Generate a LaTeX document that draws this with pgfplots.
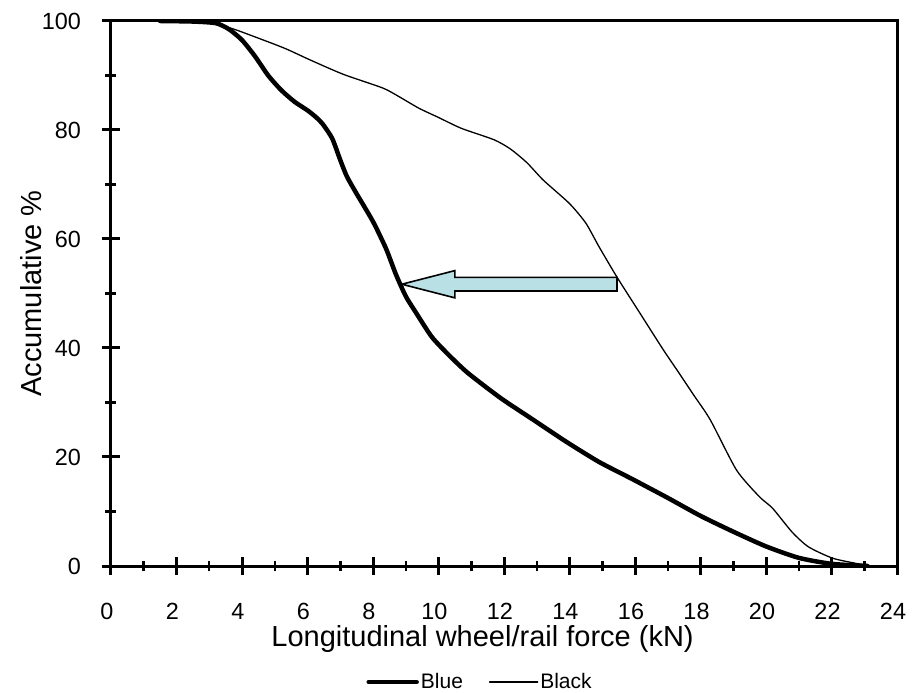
\documentclass[border=0pt]{standalone}
\usepackage{fontspec}
\setmainfont{Liberation Sans}
\usepackage{pgfplots}
\pgfplotsset{compat=1.18}
\definecolor{arrowfill}{RGB}{185,224,228}
\begin{document}
\begin{tikzpicture}
\useasboundingbox (-111pt,-127pt) rectangle (807pt,566pt);
\begin{axis}[
  at={(0pt,0pt)}, anchor=south west,
  width=786pt, height=545pt, scale only axis,
  xmin=0, xmax=24, ymin=0, ymax=100,
  xtick={0,2,...,24}, minor x tick num=1,
  ytick={0,20,...,100}, minor y tick num=1,
  xtick pos=left, ytick pos=left,
  tick align=center,
  major tick length=18pt, minor tick length=11pt,
  every major tick/.append style={line width=3pt, black},
  every minor tick/.append style={line width=2.5pt, black},
  axis line style={line width=3pt},
  /pgf/number format/assume math mode=true,
  tick label style={font=\fontsize{23.4pt}{28pt}\selectfont},
  x tick label style={anchor=north, inner sep=0pt, yshift=-28pt, xshift=-4pt},
  y tick label style={anchor=east, inner sep=0pt, xshift=-21pt},
  xlabel style={at={(axis description cs:0.4727,-0.1468)}, anchor=base, inner sep=0pt, font=\fontsize{29pt}{34pt}\selectfont},
  ylabel style={at={(axis description cs:-0.1018,0.5)}, rotate=0, anchor=center, inner sep=0pt, font=\fontsize{29pt}{34pt}\selectfont},
  xlabel={Longitudinal wheel/rail force (kN)},
  ylabel={Accumulative \%},
  legend columns=2,
  legend style={draw=none, fill=none, at={(axis description cs:0.4695,-0.2128)}, anchor=center,
    font=\fontsize{21pt}{25pt}\selectfont, inner sep=0pt,
    /tikz/every even column/.append style={column sep=24pt}},
  legend image code/.code={\draw[#1] (0pt,0pt) -- (48pt,0pt);},
]
\addplot[forget plot, draw=black, line width=1.6pt, fill=arrowfill] coordinates {
 (8.88,51.7) (10.5,54.2) (10.5,52.95) (15.45,52.95) (15.45,50.45) (10.5,50.45) (10.5,49.2) (8.88,51.7)};
\addplot[black, line width=4.5pt, line cap=round, smooth, tension=0.4] coordinates {
 (1.5,100) (2.5,99.9) (3.2,99.6) (3.6,98.5) (4.0,96.5) (4.4,93.5) (4.8,90) (5.2,87.3)
 (5.6,85.2) (6.0,83.6) (6.25,82.4) (6.45,81.2) (6.75,78.5) (7.0,74.5) (7.2,71.5) (7.5,68.3) (8.0,63.2)
 (8.4,58.2) (8.7,53.5) (9.0,49.5) (9.3,46.6) (9.8,42.0) (10.35,38.5) (10.9,35.4)
 (11.9,30.8) (12.9,26.8) (13.9,22.8) (14.9,19.1) (15.9,16.0) (17.0,12.5) (18.0,9.2)
 (19.0,6.3) (20.0,3.6) (21.0,1.5) (22.0,0.4) (23.1,0)};
\addlegendentry{Blue}
\addplot[black, line width=1.3pt, line cap=round, smooth, tension=0.4] coordinates {
 (1.5,100) (3.0,99.6) (3.7,98.6) (4.3,97.3) (5.3,95) (6.1,92.8) (7.1,90.2) (8.3,87.7)
 (8.8,86.1) (9.4,84) (10.0,82.3) (10.7,80.3) (11.7,78.2) (12.2,76.5) (12.7,74)
 (13.2,70.8) (14.0,66.5) (14.5,62.9) (14.9,58.6) (15.45,53) (16.15,46.4) (16.85,39.8)
 (17.3,35.8) (17.8,31.3) (18.3,26.8) (19.1,17.6) (19.8,12.7) (20.2,10.6) (20.8,6.2)
 (21.3,3.5) (22.05,1.4) (22.9,0.3) (23.1,0)};
\addlegendentry{Black}
\end{axis}
\end{tikzpicture}
\end{document}
